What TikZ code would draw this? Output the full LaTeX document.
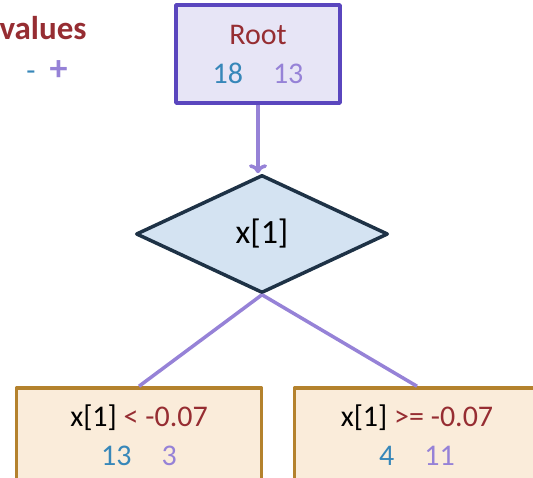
\documentclass[tikz,border=0pt]{standalone}
\usepackage{fontspec}
\setmainfont{Carlito}
\usetikzlibrary{shapes.geometric,arrows.meta}

\definecolor{valred}{RGB}{150,45,50}
\definecolor{negblue}{RGB}{55,135,185}
\definecolor{pospurple}{RGB}{150,130,215}
\definecolor{rootfill}{RGB}{231,229,246}
\definecolor{rootline}{RGB}{90,70,190}
\definecolor{splitfill}{RGB}{212,227,242}
\definecolor{splitline}{RGB}{30,50,70}
\definecolor{leaffill}{RGB}{250,236,218}
\definecolor{leafline}{RGB}{180,130,45}

\tikzset{
  rootbox/.style={draw=rootline, fill=rootfill, line width=3.5pt, minimum width=164pt, minimum height=98pt, align=center},
  splitbox/.style={diamond, draw=splitline, fill=splitfill, line width=3.5pt, minimum width=252pt, minimum height=118pt, inner sep=0pt, font=\fontsize{34}{40}\selectfont},
  leafbox/.style={draw=leafline, fill=leaffill, line width=3.5pt, minimum width=245pt, minimum height=94pt, align=center},
  edge/.style={draw=pospurple, line width=3.5pt}
}

\begin{document}
\begin{tikzpicture}[x=1pt, y=-1pt, line join=round, font=\fontsize{30}{39}\selectfont]

\useasboundingbox (0,0) rectangle (533,478);

% Legend
\node[anchor=west, text=valred, font=\fontsize{33}{39}\selectfont\bfseries] (lgnd) at (-4,28) {values};
\node (sgn) at (47,71) {\textcolor{negblue}{-}\hspace{14pt}\textcolor{pospurple}{\fontsize{36}{39}\selectfont\textbf{+}}};

% Tree
\node[rootbox] (root) at (258,54) {\textcolor{valred}{Root}\\\textcolor{negblue}{18}\quad\textcolor{pospurple}{13}};
\node[splitbox] (split) at (262,234) {x[1]};
\node[leafbox] (lt) at (139,435) {x[1] \textcolor{valred}{< -0.07}\\\textcolor{negblue}{13}\quad\textcolor{pospurple}{3}};
\node[leafbox] (ge) at (417,435) {x[1] \textcolor{valred}{>= -0.07}\\\textcolor{negblue}{4}\quad\textcolor{pospurple}{11}};

% Connectors
\draw[edge, -{To[length=9pt,width=18pt,line width=3.5pt]}] (root.south) -- (root.south |- split.north);
\draw[edge] (split.south) -- (lt.north);
\draw[edge] (split.south) -- (ge.north);

\end{tikzpicture}
\end{document}
